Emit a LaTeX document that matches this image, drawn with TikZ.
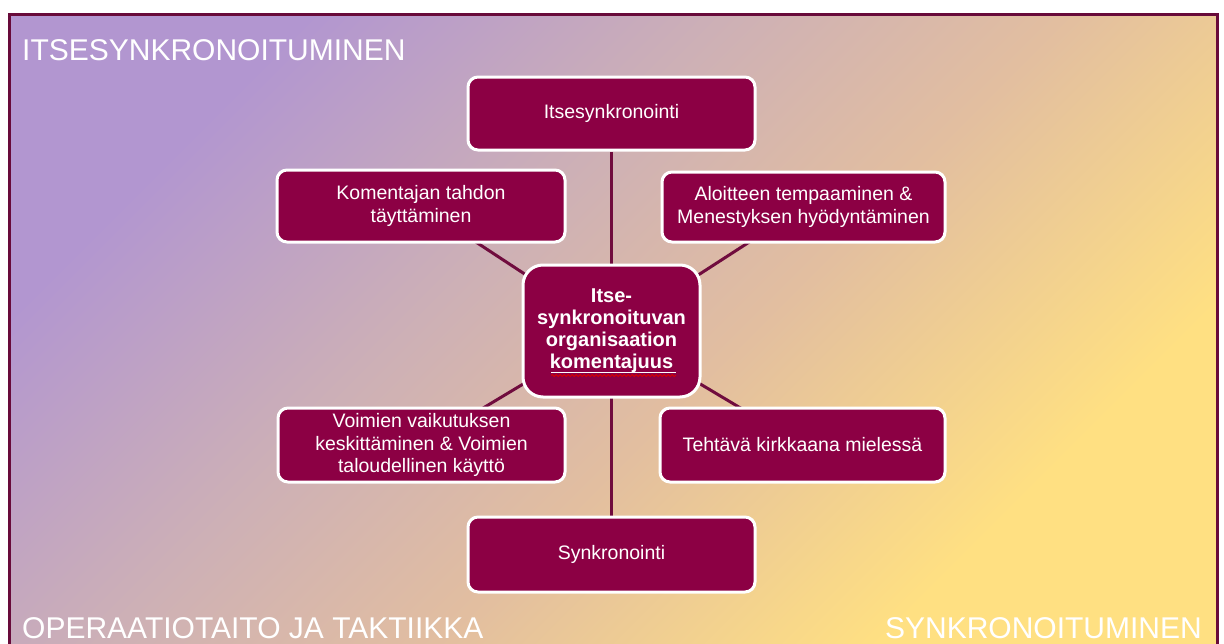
\documentclass[tikz,border=0pt]{standalone}
\usepackage{fontspec}
\setmainfont{Liberation Sans}
\usetikzlibrary{decorations.pathmorphing}
\definecolor{bgP}{RGB}{178,150,208}
\definecolor{bgM}{RGB}{205,176,182}
\definecolor{bgM2}{RGB}{226,190,160}
\definecolor{bgY}{RGB}{255,224,130}
\definecolor{framec}{RGB}{104,10,58}
\definecolor{nodefill}{RGB}{140,0,68}
\definecolor{connc}{RGB}{112,12,62}
\pgfdeclareverticalshading{bggrad}{100bp}{color(0bp)=(bgY); color(28bp)=(bgY); color(45bp)=(bgM2); color(58bp)=(bgM); color(74bp)=(bgP); color(100bp)=(bgP)}
\pgfdeclarelayer{bglayer}
\pgfdeclarelayer{edgelayer}
\pgfsetlayers{bglayer,edgelayer,main}
\tikzset{
  boxnode/.style={rounded corners=10pt, fill=nodefill, draw=white, line width=3pt,
    text=white, align=center, inner sep=0pt,
    font=\fontsize{19.5}{22.5}\selectfont},
  centernode/.style={boxnode, rounded corners=20pt, font=\bfseries\fontsize{20}{22}\selectfont},
  conn/.style={draw=connc, line width=3pt},
  cornerlabel/.style={text=white, inner sep=0pt, font=\fontsize{30}{32}\selectfont}
}
\begin{document}
\begin{tikzpicture}[x=1pt,y=-1pt]
\useasboundingbox (0,0) rectangle (1224,643);
\clip (0,0) rectangle (1224,643);
\begin{pgfonlayer}{bglayer}
\fill[white] (0,0) rectangle (1224,643);
\shade[shading=bggrad, shading angle=45] (9,14) rectangle (1217,660);
\draw[framec, line width=3pt] (9.5,665) -- (9.5,14.5) -- (1217.5,14.5) -- (1217.5,665);
\end{pgfonlayer}

\node[cornerlabel, anchor=base west] (tl) at (22,60) {ITSESYNKRONOITUMINEN};
\node[cornerlabel, anchor=base west] (bl) at (22,638) {OPERAATIOTAITO JA TAKTIIKKA};
\node[cornerlabel, anchor=base east] (br) at (1202,638) {SYNKRONOITUMINEN};

\node[boxnode, minimum width=287pt, minimum height=73pt] (top) at (611.5,113.5) {Itsesynkronointi};
\node[boxnode, minimum width=288pt, minimum height=72pt] (kom) at (421,206) {Komentajan tahdon\\täyttäminen};
\node[boxnode, minimum width=283pt, minimum height=70pt] (alo) at (803.5,207) {Aloitteen tempaaminen \&\\Menestyksen hyödyntäminen};
\node[centernode, minimum width=177pt, minimum height=132pt] (ctr) at (611.5,331) {Itse-\\synkronoituvan\\organisaation\\komentajuus};
\node[boxnode, minimum width=287pt, minimum height=74pt] (voi) at (421.5,445) {Voimien vaikutuksen\\keskittäminen \& Voimien\\taloudellinen käyttö};
\node[boxnode, minimum width=285pt, minimum height=74pt] (teh) at (802.5,445) {Tehtävä kirkkaana mielessä};
\node[boxnode, minimum width=287pt, minimum height=75pt] (syn) at (611.5,554.5) {Synkronointi};

\begin{pgfonlayer}{edgelayer}
\draw[conn] (top) -- (syn);
\draw[conn] (ctr.center) -- (kom.center);
\draw[conn] (ctr.center) -- (alo.center);
\draw[conn] (ctr.center) -- (voi.center);
\draw[conn] (ctr.center) -- (teh.center);
\end{pgfonlayer}

\draw[white, line width=1pt] (551,372) -- (676,372);
\draw[red!85!black, line width=0.8pt, decorate, decoration={snake, segment length=4pt, amplitude=1pt}] (551,375.5) -- (676,375.5);
\end{tikzpicture}
\end{document}
